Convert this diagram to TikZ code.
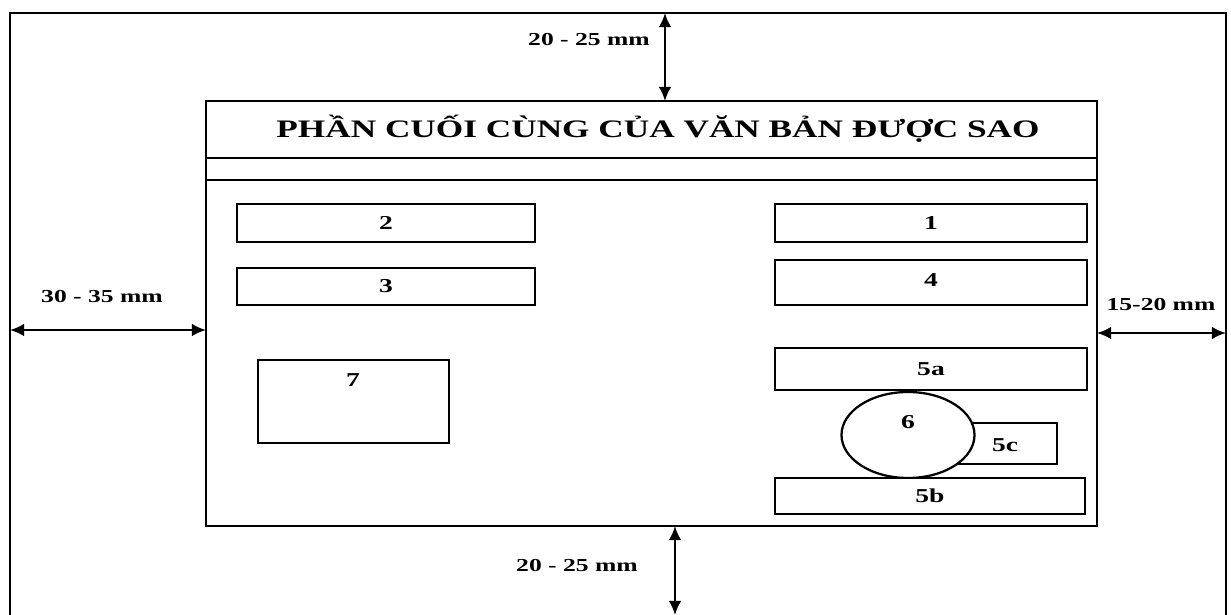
\documentclass[tikz,border=0pt]{standalone}
\usepackage{fontspec}
\setmainfont{Liberation Serif}
\usetikzlibrary{arrows.meta,shapes.geometric}
\newcommand{\stretchtxt}[1]{\scalebox{1.4}[1]{#1}}
\tikzset{
  ln/.style={line width=1.6pt, black},
  box/.style={draw, line width=1.6pt, rectangle, inner sep=0pt, fill=white},
  lbl/.style={font=\fontsize{14}{16}\selectfont\bfseries, inner sep=0pt},
  dim/.style={font=\fontsize{13}{15}\selectfont\bfseries, inner sep=0pt},
  dimarrow/.style={line width=1.6pt, {Latex[length=10pt,width=9pt]}-{Latex[length=10pt,width=9pt]}},
}
\begin{document}
\begin{tikzpicture}[x=0.025cm, y=-0.025cm]
\useasboundingbox (0,0) rectangle (1231,615);
% outer page frame (no bottom edge)
\coordinate (obl) at (10,615);
\coordinate (otl) at (10,13);
\coordinate (otr) at (1226,13);
\coordinate (obr) at (1226,615);
\draw[ln] (obl) -- (otl) -- (otr) -- (obr);
% inner text block
\node[draw, line width=1.6pt, rectangle, minimum width=891*0.025cm, minimum height=425*0.025cm, inner sep=0pt] (page) at (651.5,313.5) {};
\coordinate (l1a) at (206,158); \coordinate (l1b) at (1097,158);
\coordinate (l2a) at (206,180); \coordinate (l2b) at (1097,180);
\draw[ln] (l1a) -- (l1b);
\draw[ln] (l2a) -- (l2b);
\node[font=\fontsize{17.9}{21}\selectfont\bfseries, inner sep=0pt] (title) at (658,128.5) {\stretchtxt{PHẦN CUỐI CÙNG CỦA VĂN BẢN ĐƯỢC SAO}};
% boxes
\node[box, minimum width=298*0.025cm, minimum height=38*0.025cm] (b2) at (386,223) {};
\node[lbl] at (b2) {\stretchtxt{2}};
\node[box, minimum width=312*0.025cm, minimum height=38*0.025cm] (b1) at (931,223) {};
\node[lbl] at (b1) {\stretchtxt{1}};
\node[box, minimum width=298*0.025cm, minimum height=37*0.025cm] (b3) at (386,286.5) {};
\node[lbl] at (b3) {\stretchtxt{3}};
\node[box, minimum width=312*0.025cm, minimum height=45*0.025cm] (b4) at (931,282.5) {};
\node[lbl] at (931,280) {\stretchtxt{4}};
\node[box, minimum width=191*0.025cm, minimum height=83*0.025cm] (b7) at (353.5,401.5) {};
\node[lbl] at (353,380) {\stretchtxt{7}};
\node[box, minimum width=312*0.025cm, minimum height=42*0.025cm] (b5a) at (931,369) {};
\node[lbl] at (b5a) {\stretchtxt{5a}};
\node[box, minimum width=117*0.025cm, minimum height=41*0.025cm] (b5c) at (998.5,443.5) {};
\node[draw, line width=1.6pt, ellipse, fill=white, minimum width=133*0.025cm, minimum height=86*0.025cm, inner sep=0pt] (c6) at (908,435) {};
\node[lbl] at (908,422) {\stretchtxt{6}};
\node[lbl] at (1005,445) {\stretchtxt{5c}};
\node[box, minimum width=310*0.025cm, minimum height=36*0.025cm] (b5b) at (930,496) {};
\node[lbl] at (b5b) {\stretchtxt{5b}};
% dimension arrows
\coordinate (topA) at (665,13);
\coordinate (topB) at (665,101);
\draw[dimarrow] (topA) -- (topB);
\node[dim] (dtop) at (589,40) {\stretchtxt{20 - 25 mm}};
\coordinate (leftA) at (10,330);
\coordinate (leftB) at (206,330);
\draw[dimarrow] (leftA) -- (leftB);
\node[dim] (dleft) at (102,297) {\stretchtxt{30 - 35 mm}};
\coordinate (rightA) at (1097,333);
\coordinate (rightB) at (1226,333);
\draw[dimarrow] (rightA) -- (rightB);
\node[dim] (dright) at (1161,305) {\stretchtxt{15-20 mm}};
\coordinate (botA) at (675,526);
\coordinate (botB) at (675,615);
\draw[dimarrow] (botA) -- (botB);
\node[dim] (dbot) at (577,566) {\stretchtxt{20 - 25 mm}};
\end{tikzpicture}
\end{document}
